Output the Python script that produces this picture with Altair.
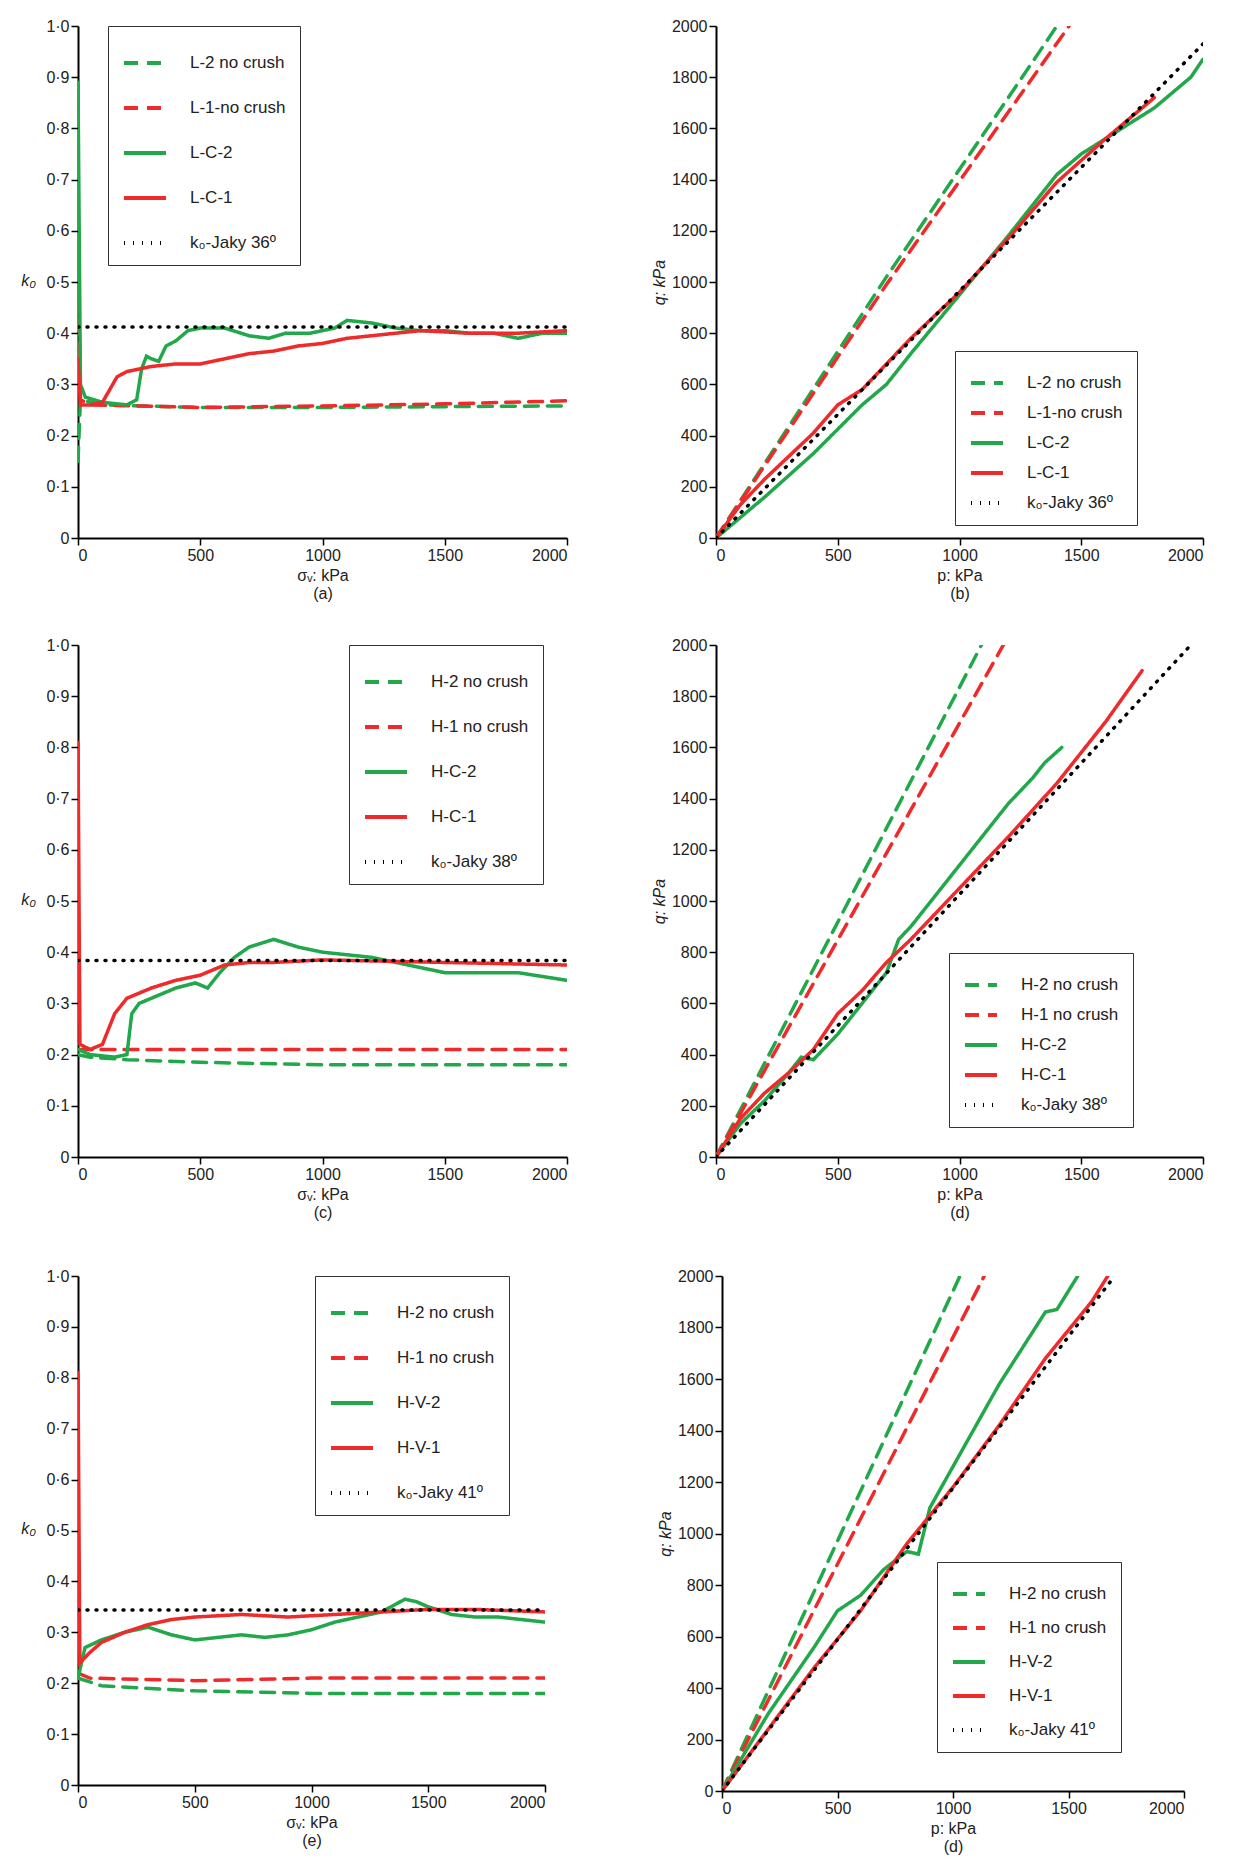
import altair as alt
import pandas as pd

GREEN = "#22a84a"
RED = "#ee2a2a"
BLACK = "#000000"

# ---- panel (a): k0 vs sigma_v ----
A_SERIES = ["L-2 no crush", "L-1-no crush", "L-C-2", "L-C-1", "k₀-Jaky 36º"]
A_X = [
    [0, 10, 100, 500, 1000, 2000],
    [0, 10, 50, 500, 1000, 1500, 2000],
    [0, 10, 30, 100, 200, 240, 260, 280, 300, 330, 360, 400, 450, 500, 600, 700, 780, 850, 950, 1050, 1100, 1200, 1300, 1400, 1500, 1600, 1700, 1800, 1900, 2000],
    [0, 10, 50, 100, 130, 160, 200, 300, 400, 500, 600, 700, 800, 900, 1000, 1100, 1200, 1300, 1400, 1600, 1800, 2000],
    [0, 2000],
]
A_Y = [
    [0.15, 0.27, 0.26, 0.255, 0.255, 0.258],
    [0.56, 0.27, 0.26, 0.255, 0.258, 0.262, 0.268],
    [0.89, 0.30, 0.275, 0.265, 0.26, 0.27, 0.33, 0.355, 0.35, 0.345, 0.375, 0.385, 0.405, 0.41, 0.41, 0.395, 0.39, 0.40, 0.40, 0.41, 0.425, 0.42, 0.41, 0.405, 0.405, 0.40, 0.40, 0.39, 0.40, 0.40],
    [0.35, 0.26, 0.26, 0.265, 0.29, 0.315, 0.325, 0.335, 0.34, 0.34, 0.35, 0.36, 0.365, 0.375, 0.38, 0.39, 0.395, 0.40, 0.405, 0.40, 0.40, 0.405],
    [0.412, 0.412],
]

# ---- panel (b): q vs p ----
B_X = [
    [0, 700, 1400],
    [0, 700, 1450],
    [0, 200, 400, 600, 700, 800, 1000, 1200, 1300, 1400, 1500, 1600, 1700, 1800, 1900, 1950, 2000],
    [0, 100, 200, 400, 500, 600, 800, 1000, 1200, 1400, 1600, 1700, 1800],
    [0, 2000],
]
B_Y = [
    [0, 1020, 2000],
    [0, 990, 2000],
    [0, 160, 330, 520, 600, 720, 950, 1180, 1300, 1420, 1500, 1560, 1620, 1680, 1760, 1800, 1870],
    [0, 130, 230, 410, 520, 580, 780, 960, 1170, 1390, 1560, 1640, 1720],
    [0, 1930],
]

# ---- panel (c) ----
C_SERIES = ["H-2 no crush", "H-1 no crush", "H-C-2", "H-C-1", "k₀-Jaky 38º"]
C_X = [
    [0, 50, 200, 500, 1000, 2000],
    [0, 100, 2000],
    [0, 50, 150, 200, 220, 250, 300, 400, 480, 530, 580, 640, 700, 800, 900, 1000, 1200, 1300, 1400, 1500, 1700, 1800, 2000],
    [0, 8, 50, 100, 150, 200, 300, 400, 500, 600, 700, 800, 1000, 1500, 2000],
    [0, 2000],
]
C_Y = [
    [0.20, 0.195, 0.19, 0.185, 0.18, 0.18],
    [0.21, 0.21, 0.21],
    [0.21, 0.20, 0.195, 0.20, 0.28, 0.30, 0.31, 0.33, 0.34, 0.33, 0.36, 0.39, 0.41, 0.425, 0.41, 0.40, 0.39, 0.38, 0.37, 0.36, 0.36, 0.36, 0.345],
    [0.81, 0.22, 0.21, 0.22, 0.28, 0.31, 0.33, 0.345, 0.355, 0.375, 0.38, 0.38, 0.385, 0.38, 0.375],
    [0.384, 0.384],
]

# ---- panel (d) ----
D_X = [
    [0, 1090],
    [0, 1180],
    [0, 100, 200, 300, 350, 400, 500, 600, 700, 750, 800, 900, 1000, 1100, 1200, 1300, 1350, 1420],
    [0, 100, 200, 300, 400, 500, 600, 700, 800, 1000, 1200, 1400, 1600, 1750],
    [0, 1950],
]
D_Y = [
    [0, 2000],
    [0, 2000],
    [0, 130, 220, 330, 390, 380, 480, 600, 720, 850, 900, 1020, 1140, 1260, 1380, 1480, 1540, 1600],
    [0, 150, 250, 330, 420, 560, 650, 760, 850, 1050, 1250, 1460, 1700, 1900],
    [0, 2000],
]

# ---- panel (e) ----
E_SERIES = ["H-2 no crush", "H-1 no crush", "H-V-2", "H-V-1", "k₀-Jaky 41º"]
E_X = [
    [0, 100, 500, 1000, 2000],
    [0, 50, 500, 1000, 2000],
    [0, 30, 100, 200, 300, 400, 500, 600, 700, 800, 900, 1000, 1100, 1200, 1300, 1400, 1450, 1500, 1600, 1700, 1800, 1900, 2000],
    [0, 8, 50, 100, 200, 300, 400, 500, 700, 900, 1100, 1300, 1500, 1700, 2000],
    [0, 2000],
]
E_Y = [
    [0.21, 0.195, 0.185, 0.18, 0.18],
    [0.22, 0.21, 0.205, 0.21, 0.21],
    [0.21, 0.27, 0.285, 0.30, 0.31, 0.295, 0.285, 0.29, 0.295, 0.29, 0.295, 0.305, 0.32, 0.33, 0.34, 0.365, 0.36, 0.35, 0.335, 0.33, 0.33, 0.325, 0.32],
    [0.81, 0.24, 0.26, 0.28, 0.30, 0.315, 0.325, 0.33, 0.335, 0.33, 0.335, 0.34, 0.345, 0.345, 0.34],
    [0.344, 0.344],
]

# ---- panel (f) ----
F_X = [
    [0, 1030],
    [0, 1135],
    [0, 200, 400, 500, 600, 700, 800, 850, 900, 1000, 1100, 1200, 1300, 1400, 1450, 1540],
    [0, 200, 400, 600, 800, 1000, 1200, 1400, 1600, 1670],
    [0, 1700],
]
F_Y = [
    [0, 2000],
    [0, 2000],
    [0, 300, 560, 700, 760, 860, 930, 920, 1100, 1260, 1420, 1580, 1720, 1860, 1870, 2000],
    [0, 240, 480, 700, 960, 1180, 1420, 1680, 1900, 2000],
    [0, 2000],
]

COLORS = [GREEN, RED, GREEN, RED, BLACK]
DASHES = [[14, 9], [14, 9], [1, 0], [1, 0], [1, 8]]
FONT = "Liberation Sans"


def frame(series, xs, ys):
    rows = []
    for i, name in enumerate(series):
        for j, (x, y) in enumerate(zip(xs[i], ys[i])):
            rows.append({"series": name, "x": x, "y": y, "order": j})
    return pd.DataFrame(rows)


def panel(series, xs, ys, kind, label, width, height, lx, ly, sym, row_pad):
    df = frame(series, xs, ys)
    if kind == "k":
        x_title = ["σᵥ: kPa", label]
        y_scale = alt.Scale(domain=[0, 1], nice=False)
        y_axis = alt.Axis(
            values=[i / 10 for i in range(11)],
            labelExpr="datum.value == 0 ? '0' : replace(format(datum.value, '.1f'), '.', '·')",
            title="k₀", titleAngle=0, titleY=height / 2 + 6, titleX=-50, titleFontStyle="italic",
        )
    else:
        x_title = ["p: kPa", label]
        y_scale = alt.Scale(domain=[0, 2000], nice=False)
        y_axis = alt.Axis(values=list(range(0, 2001, 200)), format="d", title="q: kPa",
                          titleFontStyle="italic")
    legend = alt.Legend(
        title=None, orient="none", legendX=lx, legendY=ly, symbolType="stroke",
        symbolSize=sym, symbolStrokeWidth=4, labelFontSize=17, labelFont=FONT,
        labelColor="#222222", strokeColor="#333333", padding=14, rowPadding=row_pad,
        labelOffset=22, fillColor="white",
    )
    return (
        alt.Chart(df)
        .mark_line(strokeWidth=3.5, strokeCap="round", clip=True)
        .encode(
            x=alt.X("x:Q", scale=alt.Scale(domain=[0, 2000], nice=False),
                    axis=alt.Axis(values=list(range(0, 2001, 500)), format="d", title=x_title)),
            y=alt.Y("y:Q", scale=y_scale, axis=y_axis),
            color=alt.Color("series:N", scale=alt.Scale(domain=series, range=COLORS), legend=legend),
            strokeDash=alt.StrokeDash("series:N", scale=alt.Scale(domain=series, range=DASHES), legend=legend),
            order="order:Q",
            detail="series:N",
        )
        .properties(width=width, height=height)
    )


def row(left, right, spacing):
    return (
        alt.hconcat(left, right, spacing=spacing)
        .resolve_scale(color="independent", strokeDash="independent", x="independent", y="independent")
        .resolve_legend(color="independent", strokeDash="independent")
    )


row1 = row(
    panel(A_SERIES, A_X, A_Y, "k", "(a)", 489, 512, 30, 0, 1764, 14),
    panel(A_SERIES, B_X, B_Y, "q", "(b)", 487, 512, 239, 325, 1024, 4),
    83,
)
row2 = row(
    panel(C_SERIES, C_X, C_Y, "k", "(c)", 489, 512, 271, 0, 1764, 14),
    panel(C_SERIES, D_X, D_Y, "q", "(d)", 487, 512, 233, 308, 1024, 4),
    83,
)
row3 = row(
    panel(E_SERIES, E_X, E_Y, "k", "(e)", 467, 509, 237, 0, 1764, 14),
    panel(E_SERIES, F_X, F_Y, "q", "(d)", 462, 515, 215, 286, 1024, 8),
    111,
)

top = (
    alt.vconcat(row1, row2, spacing=36)
    .resolve_scale(color="independent", strokeDash="independent", x="independent", y="independent")
    .resolve_legend(color="independent", strokeDash="independent")
)

chart = (
    alt.vconcat(top, row3, spacing=48)
    .resolve_scale(color="independent", strokeDash="independent", x="independent", y="independent")
    .resolve_legend(color="independent", strokeDash="independent")
    .properties(padding={"left": 12, "top": 10, "right": 10, "bottom": 5})
    .configure_view(stroke=None)
    .configure_axis(
        grid=False, domainColor="black", domainWidth=2, tickColor="black", tickWidth=1.5,
        tickSize=7, labelFont=FONT, titleFont=FONT, labelFontSize=16, titleFontSize=16,
        labelColor="#222222", titleColor="#222222", titleFontWeight="normal",
    )
)

chart.save("out.html", embed_options={"renderer": "svg", "actions": False})
